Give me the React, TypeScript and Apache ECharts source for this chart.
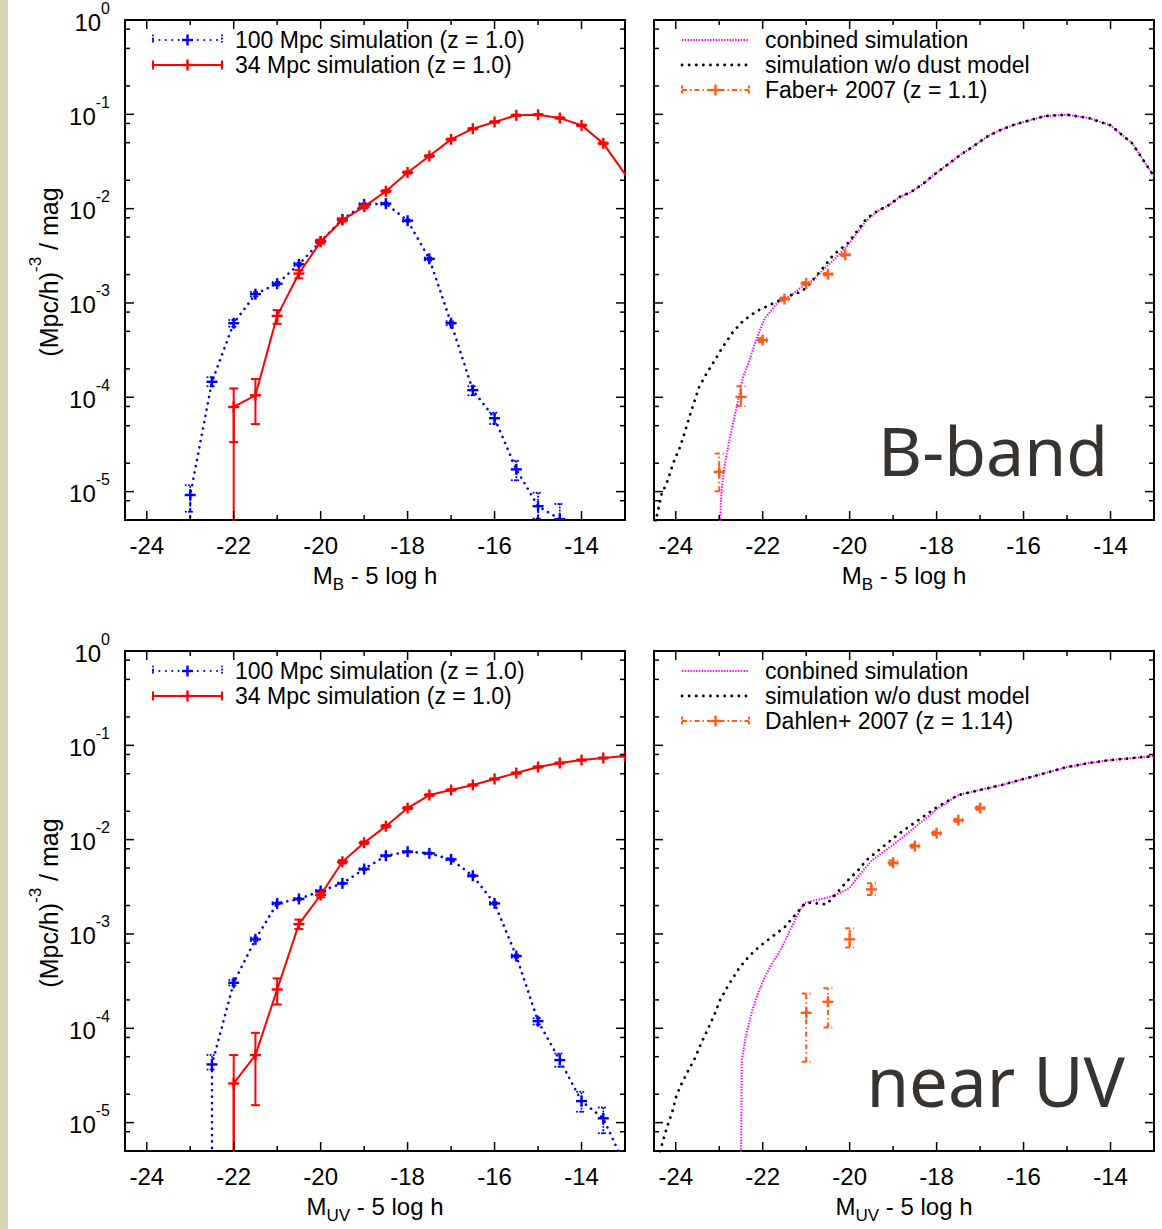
import React, { useEffect, useRef } from 'react';
import * as echarts from 'echarts';

const FONT = '"Liberation Sans", Arial, Helvetica, sans-serif';
const BIGFONT = '"Noto Sans", "Open Sans", sans-serif';

const X_MIN = -24.5;
const X_MAX = -13;
const Y_MIN = 5e-6;
const Y_MAX = 1;

const xMajorTicks = [-24, -22, -20, -18, -16, -14];
const xMinorTicks = [-23, -21, -19, -17, -15];
const yDecades = [-5, -4, -3, -2, -1, 0];
const yMinorTicks = [8e-6, 2e-5, 5e-5, 8e-5, 2e-4, 5e-4, 8e-4, 2e-3, 5e-3, 8e-3, 2e-2, 5e-2, 8e-2, 0.2, 0.5, 0.8];

// ---------- B band ----------
// [mag, phi, errLow, errHigh]
const bBlue100 = [
  [-23, 9.2e-6, 6.1e-6, 1.17e-5],
  [-22.5, 1.46e-4, 1.31e-4, 1.63e-4],
  [-22, 6.1e-4, 5.6e-4, 6.6e-4],
  [-21.5, 1.24e-3, 1.17e-3, 1.31e-3],
  [-21, 1.6e-3, 1.53e-3, 1.67e-3],
  [-20.5, 2.57e-3, 2.47e-3, 2.67e-3],
  [-20, 4.5e-3, 4.35e-3, 4.65e-3],
  [-19.5, 7.7e-3, 7.5e-3, 7.9e-3],
  [-19, 1.11e-2, 1.08e-2, 1.14e-2],
  [-18.5, 1.13e-2, 1.1e-2, 1.16e-2],
  [-18, 7.45e-3, 7.25e-3, 7.65e-3],
  [-17.5, 2.94e-3, 2.84e-3, 3.04e-3],
  [-17, 6.1e-4, 5.8e-4, 6.4e-4],
  [-16.5, 1.19e-4, 1.05e-4, 1.31e-4],
  [-16, 6.0e-5, 5.2e-5, 6.85e-5],
  [-15.5, 1.72e-5, 1.32e-5, 2.12e-5],
  [-15, 7.0e-6, 5.2e-6, 9.7e-6],
  [-14.5, 5.1e-6, 3.0e-6, 7.4e-6],
];
const bBlue100Floor = [[-23, 1e-9]];

const bRed34 = [
  [-22, 7.9e-5, 3.35e-5, 1.24e-4],
  [-21.5, 1.05e-4, 5.2e-5, 1.56e-4],
  [-21, 7.3e-4, 6.0e-4, 8.4e-4],
  [-20.5, 2.05e-3, 1.82e-3, 2.23e-3],
  [-20, 4.46e-3, 4.25e-3, 4.7e-3],
  [-19.5, 7.57e-3, 7.3e-3, 7.85e-3],
  [-19, 1.05e-2, 1.01e-2, 1.09e-2],
  [-18.5, 1.53e-2, 1.49e-2, 1.57e-2],
  [-18, 2.42e-2, 2.36e-2, 2.48e-2],
  [-17.5, 3.61e-2, 3.53e-2, 3.69e-2],
  [-17, 5.43e-2, 5.33e-2, 5.53e-2],
  [-16.5, 7.04e-2, 6.92e-2, 7.16e-2],
  [-16, 8.29e-2, 8.16e-2, 8.42e-2],
  [-15.5, 9.76e-2, 9.6e-2, 9.92e-2],
  [-15, 9.9e-2, 9.74e-2, 1.006e-1],
  [-14.5, 9.14e-2, 9.0e-2, 9.28e-2],
  [-14, 7.64e-2, 7.5e-2, 7.78e-2],
  [-13.5, 4.92e-2, 4.82e-2, 5.02e-2],
  [-12.5, 1.1e-2, 1.08e-2, 1.12e-2],
];
const bRed34Floor = [[-22, 1e-9]];

const bCombined = [
  [-23.0, 3e-6], [-22.95, 1.0e-5], [-22.87, 2.0e-5], [-22.75, 3.8e-5], [-22.6, 7.9e-5],
  [-22.45, 1.65e-4], [-22.33, 2.3e-4], [-22.18, 3.7e-4], [-22.06, 5.2e-4], [-21.95, 6.9e-4],
  [-21.79, 8.4e-4], [-21.68, 9.9e-4], [-21.5, 1.1e-3], [-21.3, 1.26e-3], [-21.0, 1.61e-3],
  [-20.83, 1.75e-3], [-20.64, 2.18e-3], [-20.37, 2.85e-3], [-20.07, 3.95e-3], [-19.61, 7.5e-3],
  [-19.38, 9.3e-3], [-19.07, 1.11e-2], [-18.84, 1.34e-2], [-18.61, 1.48e-2], [-18.3, 1.85e-2],
  [-18.07, 2.27e-2], [-17.76, 2.9e-2], [-17.46, 3.7e-2], [-17.15, 4.6e-2], [-16.84, 5.8e-2],
  [-16.54, 6.8e-2], [-16.24, 7.7e-2], [-16.0, 8.3e-2], [-15.5, 9.6e-2], [-15.0, 9.9e-2],
  [-14.5, 9.14e-2], [-14.0, 7.64e-2], [-13.5, 4.92e-2], [-13.0, 2.2e-2],
];

const bNoDust = [
  [-24.5, 4.0e-6], [-24.32, 9.6e-6], [-24.21, 1.22e-5], [-24.06, 1.99e-5], [-23.9, 2.99e-5],
  [-23.79, 4.3e-5], [-23.67, 6.5e-5], [-23.46, 1.29e-4], [-23.29, 1.79e-4], [-23.1, 2.48e-4],
  [-22.94, 3.3e-4], [-22.68, 4.95e-4], [-22.45, 6.47e-4], [-22.14, 8.2e-4], [-21.72, 1.01e-3],
  [-21.41, 1.18e-3], [-21.1, 1.32e-3], [-20.88, 1.68e-3], [-20.61, 2.36e-3], [-20.38, 3.22e-3],
  [-20.03, 4.35e-3], [-19.61, 7.9e-3], [-19.38, 9.3e-3], [-19.07, 1.11e-2], [-18.84, 1.34e-2],
  [-18.61, 1.48e-2], [-18.3, 1.85e-2], [-18.07, 2.27e-2], [-17.76, 2.9e-2], [-17.46, 3.7e-2],
  [-17.15, 4.6e-2], [-16.84, 5.8e-2], [-16.54, 6.8e-2], [-16.24, 7.7e-2], [-16.0, 8.3e-2],
  [-15.5, 9.6e-2], [-15.0, 9.9e-2], [-14.5, 9.14e-2], [-14.0, 7.64e-2], [-13.5, 4.92e-2],
  [-13.0, 2.2e-2],
];

const faber2007 = [
  [-23, 1.62e-5, 1.01e-5, 2.54e-5],
  [-22.5, 1.01e-4, 8.07e-5, 1.31e-4],
  [-22, 4.04e-4, 3.85e-4, 4.25e-4],
  [-21.5, 1.1e-3, 1.06e-3, 1.14e-3],
  [-21, 1.61e-3, 1.56e-3, 1.66e-3],
  [-20.5, 2.02e-3, 1.96e-3, 2.08e-3],
  [-20.1, 3.24e-3, 3.15e-3, 3.33e-3],
];

// ---------- near UV ----------
const uvBlue100 = [
  [-22.5, 4.14e-5, 3.66e-5, 5.2e-5],
  [-22, 3.04e-4, 2.85e-4, 3.25e-4],
  [-21.5, 8.77e-4, 8.4e-4, 9.15e-4],
  [-21, 2.11e-3, 2.05e-3, 2.17e-3],
  [-20.5, 2.35e-3, 2.29e-3, 2.41e-3],
  [-20, 2.85e-3, 2.78e-3, 2.92e-3],
  [-19.5, 3.44e-3, 3.36e-3, 3.52e-3],
  [-19, 4.88e-3, 4.78e-3, 4.98e-3],
  [-18.5, 6.75e-3, 6.62e-3, 6.88e-3],
  [-18, 7.45e-3, 7.3e-3, 7.6e-3],
  [-17.5, 7.16e-3, 7.02e-3, 7.3e-3],
  [-17, 6.18e-3, 6.05e-3, 6.31e-3],
  [-16.5, 4.14e-3, 4.04e-3, 4.24e-3],
  [-16, 2.11e-3, 2.04e-3, 2.18e-3],
  [-15.5, 5.83e-4, 5.6e-4, 6.07e-4],
  [-15, 1.19e-4, 1.1e-4, 1.28e-4],
  [-14.5, 4.6e-5, 3.9e-5, 5.4e-5],
  [-14, 1.69e-5, 1.3e-5, 2.12e-5],
  [-13.5, 1.11e-5, 7.7e-6, 1.45e-5],
  [-13, 3.5e-6, 3.0e-6, 4.0e-6],
];
const uvBlue100Floor = [[-22.5, 1e-9]];

const uvRed34 = [
  [-22, 2.6e-5, 1e-9, 5.2e-5],
  [-21.5, 5.2e-5, 1.53e-5, 8.95e-5],
  [-21, 2.58e-4, 1.79e-4, 3.38e-4],
  [-20.5, 1.27e-3, 1.13e-3, 1.42e-3],
  [-20, 2.59e-3, 2.45e-3, 2.73e-3],
  [-19.5, 5.83e-3, 5.6e-3, 6.06e-3],
  [-19, 9.27e-3, 9.0e-3, 9.55e-3],
  [-18.5, 1.39e-2, 1.35e-2, 1.43e-2],
  [-18, 2.16e-2, 2.11e-2, 2.21e-2],
  [-17.5, 2.97e-2, 2.91e-2, 3.03e-2],
  [-17, 3.36e-2, 3.3e-2, 3.42e-2],
  [-16.5, 3.8e-2, 3.74e-2, 3.86e-2],
  [-16, 4.4e-2, 4.34e-2, 4.46e-2],
  [-15.5, 5.08e-2, 5.0e-2, 5.16e-2],
  [-15, 5.89e-2, 5.8e-2, 5.98e-2],
  [-14.5, 6.49e-2, 6.4e-2, 6.58e-2],
  [-14, 6.98e-2, 6.9e-2, 7.06e-2],
  [-13.5, 7.33e-2, 7.25e-2, 7.41e-2],
  [-13, 7.7e-2, 7.62e-2, 7.78e-2],
];
const uvRed34Floor = [[-22, 1e-9]];

const uvCombined = [
  [-22.5, 3e-6], [-22.48, 4.6e-5], [-22.39, 8.1e-5], [-22.24, 1.56e-4], [-22.08, 2.54e-4],
  [-21.93, 3.66e-4], [-21.78, 4.88e-4], [-21.59, 6.75e-4], [-21.39, 1.05e-3], [-21.2, 1.58e-3],
  [-21.05, 2.11e-3], [-20.86, 2.25e-3], [-20.55, 2.39e-3], [-20.24, 2.7e-3], [-20.01, 3.05e-3],
  [-19.78, 4.22e-3], [-19.48, 6.08e-3], [-19.0, 8.8e-3], [-18.5, 1.35e-2], [-18.0, 2.1e-2],
  [-17.5, 2.97e-2], [-17, 3.36e-2], [-16.5, 3.8e-2], [-16, 4.4e-2], [-15.5, 5.08e-2],
  [-15, 5.89e-2], [-14.5, 6.49e-2], [-14, 6.98e-2], [-13.5, 7.33e-2], [-13, 7.7e-2],
];

const uvNoDust = [
  [-24.5, 3.0e-6], [-24.32, 5.8e-6], [-24.21, 8.7e-6], [-24.09, 1.25e-5], [-23.99, 1.88e-5],
  [-23.9, 2.4e-5], [-23.75, 3.3e-5], [-23.56, 4.8e-5], [-23.4, 7.2e-5], [-23.25, 1.0e-4],
  [-23.1, 1.44e-4], [-22.98, 1.99e-4], [-22.79, 2.87e-4], [-22.52, 4.49e-4], [-22.29, 5.97e-4],
  [-22.06, 7.45e-4], [-21.79, 9.3e-4], [-21.49, 1.19e-3], [-21.22, 1.66e-3], [-21.03, 2.11e-3],
  [-20.91, 2.14e-3], [-20.53, 2.06e-3], [-20.3, 2.7e-3], [-20.07, 3.58e-3], [-19.8, 4.76e-3],
  [-19.61, 6.08e-3], [-18.85, 1.17e-2], [-18.0, 2.2e-2], [-17.5, 2.97e-2], [-17, 3.36e-2],
  [-16.5, 3.8e-2], [-16, 4.4e-2], [-15.5, 5.08e-2], [-15, 5.89e-2], [-14.5, 6.49e-2],
  [-14, 6.98e-2], [-13.5, 7.33e-2], [-13, 7.7e-2],
];

const dahlen2007 = [
  [-21, 1.46e-4, 4.41e-5, 2.34e-4],
  [-20.5, 1.91e-4, 1.02e-4, 2.65e-4],
  [-20, 8.77e-4, 7.2e-4, 1.15e-3],
  [-19.5, 2.97e-3, 2.59e-3, 3.44e-3],
  [-19, 5.69e-3, 5.4e-3, 6.0e-3],
  [-18.5, 8.55e-3, 8.2e-3, 8.9e-3],
  [-18, 1.17e-2, 1.12e-2, 1.22e-2],
  [-17.5, 1.61e-2, 1.55e-2, 1.67e-2],
  [-17, 2.16e-2, 2.08e-2, 2.24e-2],
];

// ---------- styles ----------
const BLUE = '#0000ff';
const RED = '#ff0000';
const MAGENTA = '#ff00ff';
const BLACK = '#000000';
const ORANGE = '#ff5a1a';
const DOT_BLUE = [0.1, 6.3];
const DOT_MAG = [1.4, 1.4];
const DOT_BLACK = [0.1, 7];
const DASHDOT = [5, 3, 1.5, 3];
const LEGEND_FS = 23;

const GRIDS = [
  { left: 125, top: 20 },
  { left: 654, top: 20 },
  { left: 125, top: 651 },
  { left: 654, top: 651 },
];
const GW = 500;
const GH = 500;

function lineStyleOf(color: string, dash: number[] | null, width: number) {
  const s: any = { stroke: color, lineWidth: width, lineCap: dash && dash[0] < 0.5 ? 'round' : 'butt' };
  if (dash) s.lineDash = dash;
  return s;
}

function plusEls(cx: number, cy: number, color: string) {
  const st = { stroke: color, lineWidth: 2.4 };
  return [
    { type: 'line', shape: { x1: cx - 5.5, y1: cy, x2: cx + 5.5, y2: cy }, style: st },
    { type: 'line', shape: { x1: cx, y1: cy - 5.5, x2: cx, y2: cy + 5.5 }, style: st },
  ];
}

function errRender(color: string, dash: number[] | null) {
  return (params: any, api: any) => {
    const cs = params.coordSys;
    const x = api.value(0);
    const y = api.value(1);
    const lo = api.value(2);
    const hi = api.value(3);
    const c = api.coord([x, y]);
    const cl = api.coord([x, lo]);
    const ch = api.coord([x, hi]);
    const B = cs.y + cs.height;
    const T = cs.y;
    const st = lineStyleOf(color, dash, 2);
    const yl = Math.min(cl[1], B + 3);
    const yh = Math.max(ch[1], T - 3);
    const children: any[] = [
      { type: 'line', shape: { x1: c[0], y1: yl, x2: c[0], y2: yh }, style: st },
    ];
    if (cl[1] <= B + 1) children.push({ type: 'line', shape: { x1: c[0] - 4.5, y1: cl[1], x2: c[0] + 4.5, y2: cl[1] }, style: st });
    if (ch[1] >= T - 1) children.push({ type: 'line', shape: { x1: c[0] - 4.5, y1: ch[1], x2: c[0] + 4.5, y2: ch[1] }, style: st });
    children.push(...plusEls(c[0], c[1], color));
    return {
      type: 'group',
      children,
      clipPath: { type: 'rect', shape: { x: cs.x, y: cs.y, width: cs.width, height: cs.height } },
    };
  };
}

function tickRender(showYLabels: boolean) {
  return (params: any, api: any) => {
    const cs = params.coordSys;
    const L = cs.x;
    const T = cs.y;
    const R = cs.x + cs.width;
    const B = cs.y + cs.height;
    const children: any[] = [];
    const st = { stroke: '#000', lineWidth: 1.5 };
    const ln = (x1: number, y1: number, x2: number, y2: number) =>
      children.push({ type: 'line', shape: { x1, y1, x2, y2 }, style: st });
    const MAJ = 9;
    const MIN = 5;
    xMajorTicks.forEach((v) => {
      const px = api.coord([v, 1e-2])[0];
      ln(px, B, px, B - MAJ);
      ln(px, T, px, T + MAJ);
      children.push({
        type: 'text',
        x: px,
        y: B + 25,
        style: { text: String(v), fill: '#000', font: `24px ${FONT}`, align: 'center', verticalAlign: 'middle', lineHeight: 22 },
      });
    });
    xMinorTicks.forEach((v) => {
      const px = api.coord([v, 1e-2])[0];
      ln(px, B, px, B - MIN);
      ln(px, T, px, T + MIN);
    });
    yDecades.forEach((e) => {
      const py = api.coord([-20, Math.pow(10, e)])[1];
      ln(L, py, L + MAJ, py);
      ln(R, py, R - MAJ, py);
      if (showYLabels) {
        children.push({
          type: 'text',
          x: 110,
          y: py - 3,
          style: {
            text: `{b|10}{s|${e}}`,
            align: 'right',
            verticalAlign: 'middle',
            rich: {
              b: { fontSize: 24, fontFamily: FONT, fill: '#000', lineHeight: 34, verticalAlign: 'bottom' },
              s: { fontSize: 16, fontFamily: FONT, fill: '#000', lineHeight: 16, verticalAlign: 'top' },
            },
          },
        });
      }
    });
    yMinorTicks.forEach((v) => {
      const py = api.coord([-20, v])[1];
      ln(L, py, L + MIN, py);
      ln(R, py, R - MIN, py);
    });
    return { type: 'group', children };
  };
}

function legendEls(x1: number, x2: number, y: number, kind: string, label: string, tx: number) {
  const els: any[] = [];
  const mid = (x1 + x2) / 2;
  const push = (a: number, b: number, c: number, d: number, style: any) =>
    els.push({ type: 'line', shape: { x1: a, y1: b, x2: c, y2: d }, style });
  if (kind === 'blue' || kind === 'red' || kind === 'orange') {
    const color = kind === 'blue' ? BLUE : kind === 'red' ? RED : ORANGE;
    const dash = kind === 'blue' ? DOT_BLUE : kind === 'red' ? null : DASHDOT;
    const st = lineStyleOf(color, dash, 2);
    const stCap = lineStyleOf(color, kind === 'blue' ? [0.1, 3] : kind === 'orange' ? [3, 2] : null, 2);
    push(x1, y, x2, y, st);
    push(x1, y - 4.5, x1, y + 4.5, stCap);
    push(x2, y - 4.5, x2, y + 4.5, stCap);
    els.push(...plusEls(mid, y, color));
  } else if (kind === 'magenta') {
    push(x1, y, x2, y, lineStyleOf(MAGENTA, DOT_MAG, 2));
  } else {
    push(x1, y, x2, y, lineStyleOf(BLACK, DOT_BLACK, 2.8));
  }
  els.push({
    type: 'text',
    x: tx,
    y,
    style: { text: label, fill: '#000', font: `${LEGEND_FS}px ${FONT}`, align: 'left', verticalAlign: 'middle', lineHeight: 20 },
  });
  return els;
}

function xTitle(cx: number, cy: number, sub: string) {
  return {
    type: 'text',
    x: cx,
    y: cy,
    style: {
      text: `{n|M}{s|${sub}}{n| - 5 log h}`,
      align: 'center',
      verticalAlign: 'middle',
      rich: {
        n: { fontSize: 24, fontFamily: FONT, fill: '#000', lineHeight: 30, verticalAlign: 'top' },
        s: { fontSize: 17, fontFamily: FONT, fill: '#000', lineHeight: 17, verticalAlign: 'bottom' },
      },
    },
  };
}

function yTitle(cx: number, cy: number) {
  return {
    type: 'text',
    x: cx,
    y: cy,
    rotation: Math.PI / 2,
    style: {
      text: '{n|(Mpc/h)}{s|-3}{n| / mag}',
      align: 'center',
      verticalAlign: 'middle',
      rich: {
        n: { fontSize: 25, fontFamily: FONT, fill: '#000', lineHeight: 34, verticalAlign: 'bottom' },
        s: { fontSize: 17, fontFamily: FONT, fill: '#000', lineHeight: 17, verticalAlign: 'top' },
      },
    },
  };
}

function buildOption() {
  const grid = GRIDS.map((g) => ({
    left: g.left,
    top: g.top,
    width: GW,
    height: GH,
    show: true,
    borderColor: '#000',
    borderWidth: 2,
    backgroundColor: 'transparent',
  }));
  const hidden = { axisLine: { show: false }, axisTick: { show: false }, axisLabel: { show: false }, splitLine: { show: false } };
  const xAxis = GRIDS.map((_, i) => ({ type: 'value', gridIndex: i, min: X_MIN, max: X_MAX, ...hidden }));
  const yAxis = GRIDS.map((_, i) => ({ type: 'log', logBase: 10, gridIndex: i, min: Y_MIN, max: Y_MAX, ...hidden }));

  const line = (i: number, data: number[][], color: string, width: number, dash: number[] | null, z: number) => ({
    type: 'line',
    xAxisIndex: i,
    yAxisIndex: i,
    data,
    symbol: 'none',
    showSymbol: false,
    silent: true,
    clip: true,
    z,
    lineStyle: { color, width, type: dash || 'solid', cap: dash && dash[0] < 0.5 ? 'round' : 'butt' },
  });
  const err = (i: number, data: number[][], color: string, dash: number[] | null, z: number) => ({
    type: 'custom',
    xAxisIndex: i,
    yAxisIndex: i,
    data,
    silent: true,
    clip: true,
    z,
    renderItem: errRender(color, dash),
  });
  const ticks = (i: number, showY: boolean) => ({
    type: 'custom',
    xAxisIndex: i,
    yAxisIndex: i,
    data: [[-20, 1e-2]],
    silent: true,
    z: 10,
    renderItem: tickRender(showY),
  });
  const pts = (d: number[][]) => d.map((r) => [r[0], r[1]]);

  const series: any[] = [
    ticks(0, true), ticks(1, false), ticks(2, true), ticks(3, false),
    // B band, left
    line(0, bBlue100Floor.concat(pts(bBlue100)), BLUE, 2.6, DOT_BLUE, 2),
    err(0, bBlue100, BLUE, [0.1, 3], 3),
    line(0, bRed34Floor.concat(pts(bRed34)), RED, 2, null, 4),
    err(0, bRed34, RED, null, 5),
    // B band, right
    line(1, bCombined, MAGENTA, 2, DOT_MAG, 2),
    line(1, bNoDust, BLACK, 2.8, DOT_BLACK, 3),
    err(1, faber2007, ORANGE, DASHDOT, 5),
    // UV, left
    line(2, uvBlue100Floor.concat(pts(uvBlue100)), BLUE, 2.6, DOT_BLUE, 2),
    err(2, uvBlue100, BLUE, [0.1, 3], 3),
    line(2, uvRed34Floor.concat(pts(uvRed34)), RED, 2, null, 4),
    err(2, uvRed34, RED, null, 5),
    // UV, right
    line(3, uvCombined, MAGENTA, 2, DOT_MAG, 2),
    line(3, uvNoDust, BLACK, 2.8, DOT_BLACK, 3),
    err(3, dahlen2007, ORANGE, DASHDOT, 5),
  ];

  const graphicEls: any[] = [
    { type: 'rect', shape: { x: 0, y: 0, width: 8, height: 1229 }, style: { fill: '#dad2b5' }, z: 0 },
    ...legendEls(153, 222, 40, 'blue', '100 Mpc simulation (z = 1.0)', 235),
    ...legendEls(153, 222, 65, 'red', '34 Mpc simulation (z = 1.0)', 235),
    ...legendEls(682, 749, 40, 'magenta', 'conbined simulation', 765),
    ...legendEls(682, 749, 65, 'black', 'simulation w/o dust model', 765),
    ...legendEls(682, 749, 90, 'orange', 'Faber+ 2007 (z = 1.1)', 765),
    ...legendEls(153, 222, 671, 'blue', '100 Mpc simulation (z = 1.0)', 235),
    ...legendEls(153, 222, 696, 'red', '34 Mpc simulation (z = 1.0)', 235),
    ...legendEls(682, 749, 671, 'magenta', 'conbined simulation', 765),
    ...legendEls(682, 749, 696, 'black', 'simulation w/o dust model', 765),
    ...legendEls(682, 749, 721, 'orange', 'Dahlen+ 2007 (z = 1.14)', 765),
    xTitle(375, 578, 'B'),
    xTitle(904, 578, 'B'),
    xTitle(375, 1209, 'UV'),
    xTitle(904, 1209, 'UV'),
    yTitle(44, 272),
    yTitle(44, 903),
    {
      type: 'text', x: 1108, y: 449,
      style: { text: 'B-band', fill: '#38332e', font: `68px ${BIGFONT}`, align: 'right', verticalAlign: 'middle' },
    },
    {
      type: 'text', x: 1125, y: 1080,
      style: { text: 'near UV', fill: '#38332e', font: `69px ${BIGFONT}`, align: 'right', verticalAlign: 'middle' },
    },
  ];

  return {
    animation: false,
    backgroundColor: '#ffffff',
    grid,
    xAxis,
    yAxis,
    series,
    graphic: { elements: graphicEls },
  };
}

export default function App() {
  const ref = useRef<HTMLDivElement>(null);
  useEffect(() => {
    document.body.style.margin = '0';
    const chart = echarts.init(ref.current as HTMLDivElement, null, { renderer: 'svg' });
    chart.setOption(buildOption() as any);
    return () => chart.dispose();
  }, []);
  return (
    <div
      ref={ref}
      style={{ position: 'absolute', left: 0, top: 0, width: 1162, height: 1229, background: '#fff' }}
    />
  );
}
